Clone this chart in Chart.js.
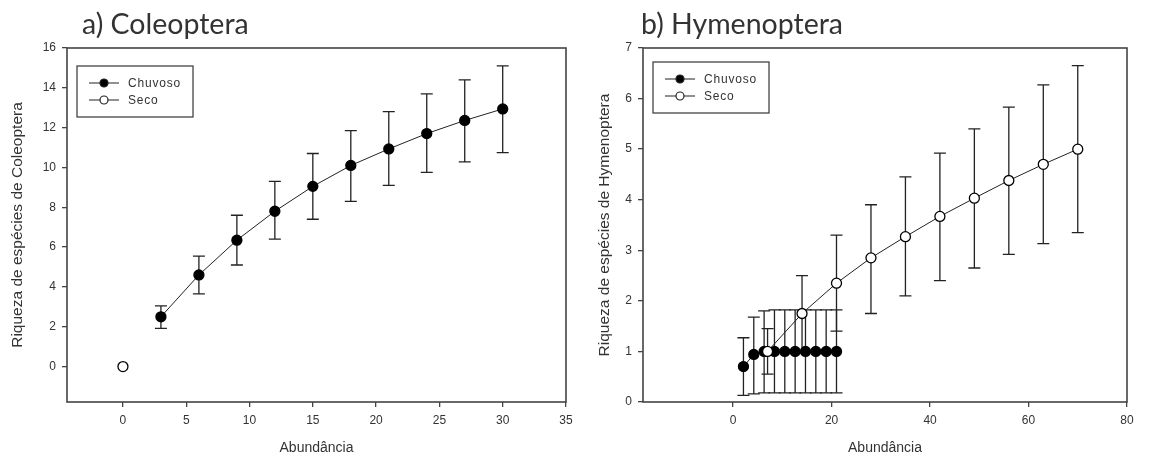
<!DOCTYPE html>
<html>
<head>
<meta charset="utf-8">
<script src="https://cdn.jsdelivr.net/npm/chart.js@4"></script>
<style>
  body { margin: 0; background: #fff; }
  #wrap { position: relative; width: 1168px; height: 461px; }
  canvas { position: absolute; top: 0; }
  .title { position: absolute; top: 6px; font-family: Lato, "Open Sans", sans-serif; font-size: 28.5px; color: #333; white-space: nowrap; }
</style>
</head>
<body>
<div id="wrap">
  <canvas id="colChart" width="584" height="461" style="left:0"></canvas>
  <canvas id="hymChart" width="584" height="461" style="left:584px"></canvas>
  <div class="title" style="left:82px">a) Coleoptera</div>
  <div class="title" style="left:641px">b) Hymenoptera</div>
</div>
<script>
// a) Coleoptera
const colChuvosoX = [3, 6, 9, 12, 15, 18, 21, 24, 27, 30];
const colChuvoso = [2.5, 4.6, 6.35, 7.8, 9.05, 10.1, 10.93, 11.7, 12.36, 12.94];
const colChuvosoLow = [1.92, 3.65, 5.1, 6.4, 7.4, 8.3, 9.1, 9.75, 10.28, 10.75];
const colChuvosoHigh = [3.05, 5.55, 7.6, 9.3, 10.7, 11.85, 12.8, 13.7, 14.4, 15.1];
const colSecoX = [0];
const colSeco = [0];
const colXTicks = [0, 5, 10, 15, 20, 25, 30, 35];
const colYTicks = [0, 2, 4, 6, 8, 10, 12, 14, 16];

// b) Hymenoptera
const hymChuvosoX = [2.1, 4.2, 6.3, 8.4, 10.5, 12.6, 14.7, 16.8, 18.9, 21.0];
const hymChuvoso = [0.7, 0.94, 1, 1, 1, 1, 1, 1, 1, 1];
const hymChuvosoLow = [0.13, 0.16, 0.18, 0.18, 0.18, 0.18, 0.18, 0.18, 0.18, 0.18];
const hymChuvosoHigh = [1.27, 1.68, 1.8, 1.82, 1.82, 1.82, 1.82, 1.82, 1.82, 1.82];
const hymSecoX = [7, 14, 21, 28, 35, 42, 49, 56, 63, 70];
const hymSeco = [1.0, 1.75, 2.35, 2.85, 3.27, 3.67, 4.03, 4.38, 4.7, 5.0];
const hymSecoLow = [0.55, 1.0, 1.4, 1.75, 2.1, 2.4, 2.65, 2.92, 3.13, 3.35];
const hymSecoHigh = [1.45, 2.5, 3.3, 3.9, 4.45, 4.92, 5.4, 5.83, 6.27, 6.65];
const hymXTicks = [0, 20, 40, 60, 80];
const hymYTicks = [0, 1, 2, 3, 4, 5, 6, 7];

const ink = '#333';
const tickFont = { family: '"Liberation Sans", Arial, sans-serif', size: 12 };
const xTitleFont = { family: '"Liberation Sans", Arial, sans-serif', size: 14 };
const yTitleFont = { family: '"Liberation Sans", Arial, sans-serif', size: 15.5 };

function pts(xs, ys) {
  return xs.map((x, i) => ({ x: x, y: ys[i] }));
}

// vertical error bars with caps
const errorBars = {
  id: 'errorBars',
  beforeDatasetsDraw(chart) {
    const ctx = chart.ctx;
    const xs = chart.scales.x, ys = chart.scales.y;
    ctx.save();
    ctx.strokeStyle = '#222';
    ctx.lineWidth = 1.3;
    chart.data.datasets.forEach(ds => {
      if (!ds.errLow) return;
      ds.data.forEach((p, i) => {
        const px = xs.getPixelForValue(p.x);
        const lo = ys.getPixelForValue(ds.errLow[i]);
        const hi = ys.getPixelForValue(ds.errHigh[i]);
        ctx.beginPath();
        ctx.moveTo(px, lo); ctx.lineTo(px, hi);
        ctx.moveTo(px - 6, lo); ctx.lineTo(px + 6, lo);
        ctx.moveTo(px - 6, hi); ctx.lineTo(px + 6, hi);
        ctx.stroke();
      });
    });
    ctx.restore();
  }
};

// plot frame and legend box
const frameLegend = {
  id: 'frameLegend',
  afterDraw(chart, args, opts) {
    const ctx = chart.ctx;
    const a = chart.chartArea;
    ctx.save();
    ctx.strokeStyle = '#444';
    ctx.lineWidth = 1.6;
    ctx.strokeRect(a.left, a.top, a.right - a.left, a.bottom - a.top);

    const bx = a.left + opts.dx, by = a.top + opts.dy, bw = 116, bh = 51;
    ctx.lineWidth = 1.3;
    ctx.fillStyle = '#fff';
    ctx.fillRect(bx, by, bw, bh);
    ctx.strokeRect(bx, by, bw, bh);
    const items = [chart.data.datasets.find(d => d.label === 'Chuvoso'), chart.data.datasets.find(d => d.label === 'Seco')];
    items.forEach((ds, i) => {
      const y = by + 17 + i * 17;
      ctx.strokeStyle = '#222';
      ctx.lineWidth = 1;
      ctx.beginPath();
      ctx.moveTo(bx + 12, y); ctx.lineTo(bx + 42, y);
      ctx.stroke();
      ctx.beginPath();
      ctx.arc(bx + 27, y, 4, 0, Math.PI * 2);
      ctx.fillStyle = ds.pointBackgroundColor;
      ctx.fill();
      ctx.lineWidth = 1.2;
      ctx.stroke();
      ctx.fillStyle = ink;
      ctx.font = '12px "Liberation Sans", Arial, sans-serif';
      ctx.letterSpacing = '0.8px';
      ctx.textBaseline = 'middle';
      ctx.fillText(ds.label, bx + 51, y + 0.5);
    });
    ctx.restore();
  }
};

function dataset(label, xs, ys, low, high, filled, line) {
  return {
    label: label,
    data: pts(xs, ys),
    errLow: low,
    errHigh: high,
    showLine: line,
    borderColor: '#222',
    borderWidth: 1,
    pointRadius: 5,
    pointHoverRadius: 5,
    pointBorderWidth: 1.3,
    pointBackgroundColor: filled ? '#000' : '#fff',
    pointBorderColor: '#000',
    order: filled ? 2 : 1
  };
}

function axis(min, max, ticks, title, pos, size, titlePad) {
  return {
    type: 'linear',
    position: pos,
    min: min,
    max: max,
    afterBuildTicks: s => { s.ticks = ticks.map(v => ({ value: v })); },
    afterFit: s => { if (pos === 'left') s.width = size; else s.height = size; },
    border: { display: false },
    grid: { drawOnChartArea: false, drawTicks: true, tickLength: 5, color: '#444', lineWidth: 1.3 },
    ticks: { color: ink, font: tickFont, padding: 6 },
    title: { display: true, text: title, color: ink, font: pos === 'left' ? yTitleFont : xTitleFont, padding: titlePad }
  };
}

function makeChart(id, datasets, xMin, xMax, xTicks, yMin, yMax, yTicks, yTitle, pad, yWidth, yTitlePad, legendPos) {
  new Chart(document.getElementById(id), {
    type: 'scatter',
    data: { datasets: datasets },
    options: {
      responsive: false,
      animation: false,
      devicePixelRatio: 1,
      layout: { padding: pad },
      plugins: { legend: { display: false }, tooltip: { enabled: false }, frameLegend: legendPos },
      scales: {
        x: axis(xMin, xMax, xTicks, 'Abundância', 'bottom', 59, { top: 0, bottom: 4 }),
        y: axis(yMin, yMax, yTicks, yTitle, 'left', yWidth, { top: yTitlePad, bottom: 0 })
      }
    },
    plugins: [errorBars, frameLegend]
  });
}

makeChart('colChart', [
  dataset('Chuvoso', colChuvosoX, colChuvoso, colChuvosoLow, colChuvosoHigh, true, true),
  dataset('Seco', colSecoX, colSeco, null, null, false, false)
], -4.42, 35, colXTicks, -1.78, 16, colYTicks, 'Riqueza de espécies de Coleoptera',
  { left: 0, right: 18, top: 48, bottom: 0 }, 67, 8, { dx: 10, dy: 18 });

makeChart('hymChart', [
  dataset('Chuvoso', hymChuvosoX, hymChuvoso, hymChuvosoLow, hymChuvosoHigh, true, true),
  dataset('Seco', hymSecoX, hymSeco, hymSecoLow, hymSecoHigh, false, true)
], -18.3, 80, hymXTicks, 0, 7, hymYTicks, 'Riqueza de espécies de Hymenoptera',
  { left: 0, right: 41, top: 48, bottom: 0 }, 59, 11, { dx: 10, dy: 14 });
</script>
</body>
</html>
